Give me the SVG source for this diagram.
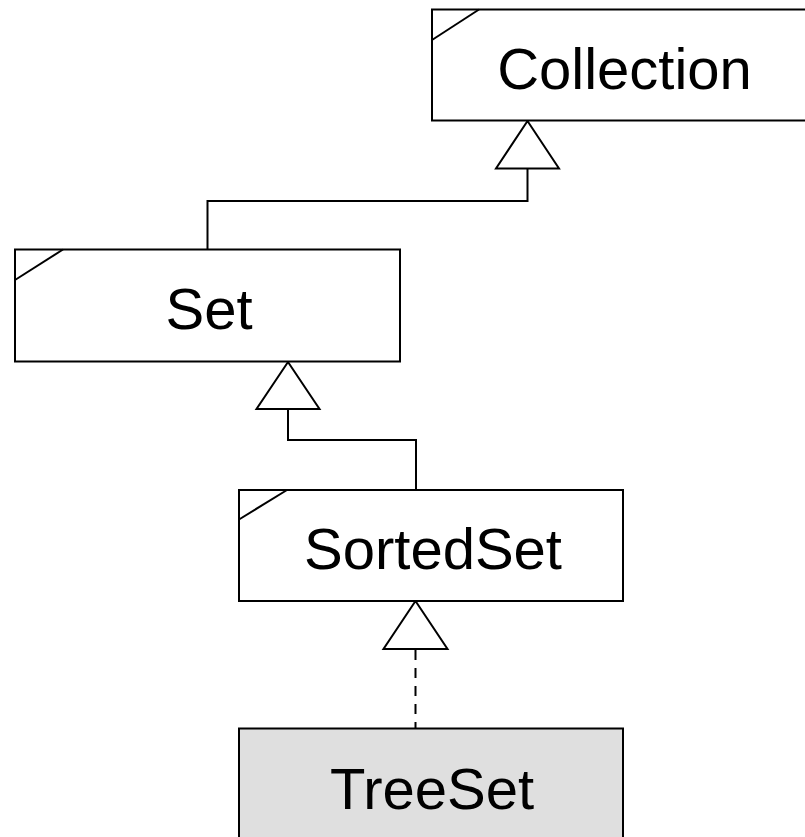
<svg xmlns="http://www.w3.org/2000/svg" width="805" height="837" viewBox="0 0 805 837">
<style>
.box{fill:#ffffff;stroke:#000;stroke-width:2}
.cls{fill:#dfdfdf;stroke:#000;stroke-width:2}
.corner{fill:none;stroke:#000;stroke-width:2}
.lbl{font-family:"Liberation Sans",Arial,sans-serif;font-size:58px;fill:#000;text-anchor:middle}
.edge{fill:none;stroke:#000;stroke-width:2}
.dash{stroke-dasharray:10 8}
.tri{fill:#fff;stroke:#000;stroke-width:2;stroke-linejoin:miter}
</style>
<rect width="805" height="837" fill="#ffffff"/>
<g id="connectors">
<path class="edge" d="M207.5,249 V201 H527.5 V168"/>
<polygon class="tri" points="527.5,121 496,168.5 559,168.5"/>
<path class="edge" d="M416,490 V440 H288 V409"/>
<polygon class="tri" points="288,362 256.5,409 319.5,409"/>
<path class="edge dash" d="M415.5,650 V728"/>
<polygon class="tri" points="415.5,601 383.5,649 447.5,649"/>
</g>
<g id="Collection">
<rect class="box" x="432" y="9.5" width="390" height="111"/>
<path class="corner" d="M432,40 L479,9.5"/>
<text class="lbl" x="624.5" y="89">Collection</text>
</g>
<g id="Set">
<rect class="box" x="15" y="249.5" width="385" height="112"/>
<path class="corner" d="M15,280 L63,249.5"/>
<text class="lbl" x="209" y="328.5">Set</text>
</g>
<g id="SortedSet">
<rect class="box" x="239" y="490" width="384" height="111"/>
<path class="corner" d="M239,519.5 L287,490"/>
<text class="lbl" x="433" y="568.5">SortedSet</text>
</g>
<g id="TreeSet">
<rect class="cls" x="239" y="728.5" width="384" height="120"/>
<text class="lbl" x="432" y="808.5">TreeSet</text>
</g>
</svg>
